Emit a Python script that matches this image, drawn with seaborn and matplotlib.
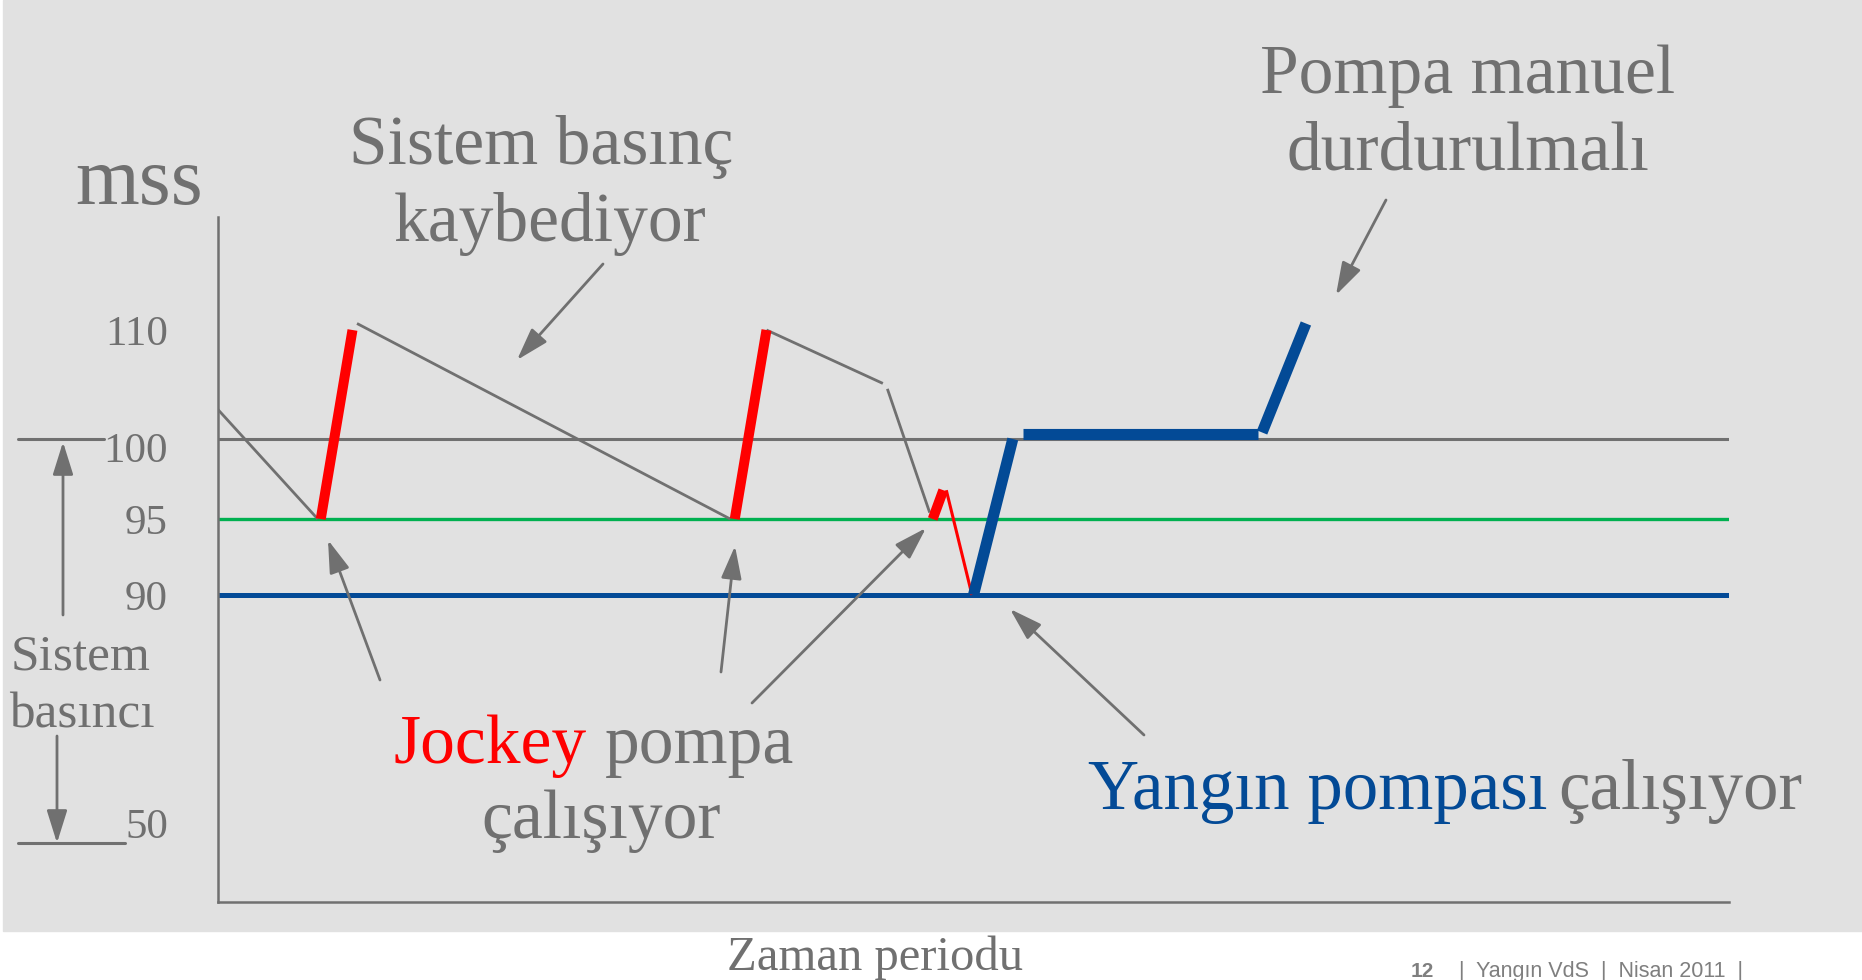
import numpy as np
import pandas as pd
import matplotlib
matplotlib.use("Agg")
import matplotlib.pyplot as plt
import matplotlib.transforms as mtransforms
import seaborn as sns
from matplotlib.patches import Rectangle, FancyArrowPatch
from matplotlib.lines import Line2D

# reference pressure levels (mss)
levels = [100, 95, 90]
tick_values = [50, 90, 95, 100, 110]
tick_labels = ["50", "90", "95", "100", "110"]

# time in arbitrary units (0..100), pressure in mss
# system losing pressure (grey)
drop_t = [[0, 6.6], [9.2, 33.9], [36.3, 44.0], [44.3, 47.1]]
drop_p = [[102.7, 95], [110.6, 95], [110, 105.1], [104.6, 95.4]]
# jockey pump running (red)
jockey_t = [[6.8, 8.9], [34.2, 36.3], [47.3, 48.0]]
jockey_p = [[95, 110], [95, 110], [95, 96.8]]
jockey_fall_t = [[48.2, 49.9]]
jockey_fall_p = [[96.8, 90]]
# fire pump running (blue)
fire_t = [[50.0, 52.6], [53.3, 68.8], [69.1, 72.0]]
fire_p = [[90, 100], [100.45, 100.45], [100.6, 110.6]]


def to_frame(ts, ps, kind):
    rows = []
    for i, (t, p) in enumerate(zip(ts, ps)):
        for a, b in zip(t, p):
            rows.append({"kind": kind, "seg": f"{kind}{i}", "t": a, "p": b})
    return rows


df = pd.DataFrame(
    to_frame(drop_t, drop_p, "drop")
    + to_frame(jockey_t, jockey_p, "jockey")
    + to_frame(jockey_fall_t, jockey_fall_p, "fall")
    + to_frame(fire_t, fire_p, "fire")
)

GREY = "#707070"
RED = "#FF0000"
GREEN = "#00B050"
BLUE = "#034A96"

sns.set_style("white")
plt.rcParams["font.family"] = ["Liberation Serif", "DejaVu Serif"]

W, H = 1862, 980
fig = plt.figure(figsize=(W / 100, H / 100), dpi=100, facecolor="white")


def fx(x):
    return x / W


def fy(y):
    return 1 - y / H


fig.add_artist(Rectangle((fx(3), fy(931)), 1 - fx(3), 931 / H, color="#E1E1E1",
                         transform=fig.transFigure, zorder=-10))

ax = fig.add_axes([fx(218), fy(902), (1729 - 218) / W, (902 - 217) / H])
ax.set_facecolor("none")

# schematic (non-linear) pressure axis
scale_p = [0, 36, 50, 90, 95, 100, 110, 120.4, 200]
scale_h = [-205, 0, 79, 307, 383, 463, 572, 685, 1553]
ax.set_yscale("function", functions=(lambda v: np.interp(v, scale_p, scale_h),
                                     lambda v: np.interp(v, scale_h, scale_p)))

for lv, c, lw in zip(levels, [GREY, GREEN, BLUE], [2.2, 2.4, 3.6]):
    ax.axhline(lv, color=c, lw=lw, zorder=1)

styles = {"drop": (GREY, 2.0), "jockey": (RED, 7.2), "fall": (RED, 2.2), "fire": (BLUE, 8.0)}
for kind, (c, lw) in styles.items():
    sns.lineplot(data=df[df["kind"] == kind], x="t", y="p", units="seg", estimator=None,
                 sort=False, color=c, lw=lw, solid_capstyle="butt", legend=False,
                 ax=ax, zorder=3)

ax.set_xlim(0, 100)
ax.set_ylim(36, 120.4)
ax.set_xlabel("")
ax.set_ylabel("")
ax.set_xticks([])
ax.set_yticks(tick_values, tick_labels)
ax.tick_params(axis="y", length=0, pad=36, labelsize=31, labelcolor=GREY)
for lab in ax.get_yticklabels():
    if lab.get_text() == "100":
        lab.set_transform(lab.get_transform() + mtransforms.ScaledTranslation(0, -0.08, fig.dpi_scale_trans))
for s in ["top", "right"]:
    ax.spines[s].set_visible(False)
for s in ["left", "bottom"]:
    ax.spines[s].set_color(GREY)
    ax.spines[s].set_linewidth(1.8)

# left side markers
fig.add_artist(Line2D([fx(18), fx(104)], [fy(439), fy(439)], color=GREY, lw=2.2))
fig.add_artist(Line2D([fx(18), fx(125)], [fy(843), fy(843)], color=GREY, lw=2.2))


def arrow(x0, y0, x1, y1):
    fig.add_artist(FancyArrowPatch((fx(x0), fy(y0)), (fx(x1), fy(y1)),
                                   transform=fig.transFigure,
                                   arrowstyle="-|>,head_length=0.8,head_width=0.25",
                                   mutation_scale=25, color=GREY, lw=2,
                                   shrinkA=0, shrinkB=0))


arrow(63, 615, 63, 442)
arrow(57, 736, 57, 843)
arrow(603, 264, 517, 360)
arrow(1386, 200, 1336, 295)
arrow(380, 680, 328, 540)
arrow(721, 672, 735, 546)
arrow(752, 703, 926, 528)
arrow(1144, 735, 1010, 609)


def label(x, y, s, size, color=GREY, ha="center", **kw):
    fig.text(fx(x), fy(y), s, fontsize=size, color=color, ha=ha, va="baseline", **kw)


label(139, 204, "mss", 59)
label(541, 164, "Sistem basınç", 50)
label(550, 241, "kaybediyor", 50)
label(1468, 93, "Pompa manuel", 50)
label(1468, 169, "durdurulmalı", 50)
label(587, 763, "Jockey", 50, color=RED, ha="right")
label(605, 763, "pompa", 50, ha="left")
label(601, 838, "çalışıyor", 50)
label(1547, 809, "Yangın pompası", 51, color=BLUE, ha="right")
label(1558, 809, "çalışıyor", 51, ha="left")
label(81, 670, "Sistem", 37)
label(82, 727, "basıncı", 37)
label(875, 970, "Zaman periodu", 35)

fig.text(fx(1411), fy(977), "12", fontsize=15, color="#7F7F7F", fontweight="bold",
         family="Liberation Sans", va="baseline")
fig.text(fx(1459), fy(977), "|  Yangın VdS  |  Nisan 2011  |", fontsize=15.5,
         color="#7F7F7F", family="Liberation Sans", va="baseline")

fig.savefig("out.png", dpi=100, facecolor="white")
